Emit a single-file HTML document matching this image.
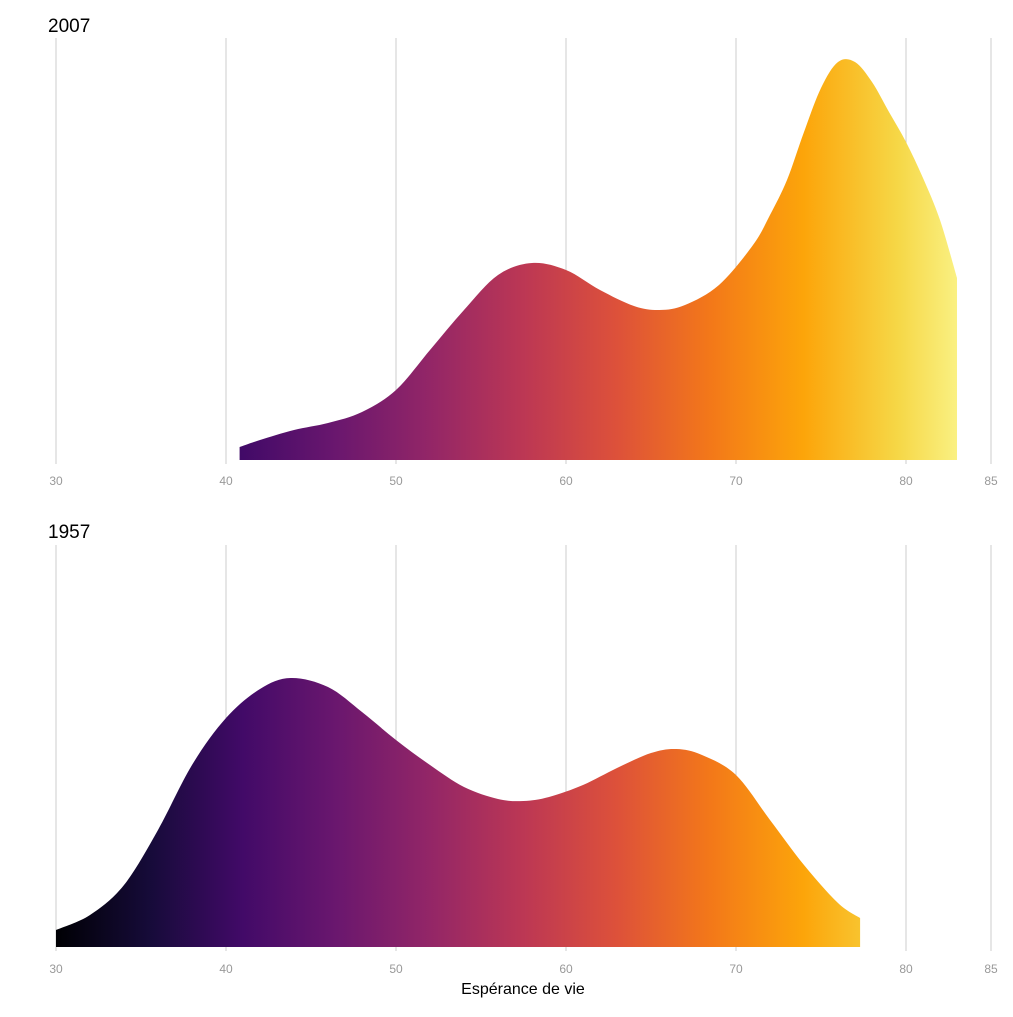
<!DOCTYPE html>
<html><head><meta charset="utf-8"><style>
body{margin:0;background:#fff;font-family:"Liberation Sans",sans-serif}
</style></head><body>
<svg id="c" width="1013" height="1012" xmlns="http://www.w3.org/2000/svg">
<defs>
<linearGradient id="inf" gradientUnits="userSpaceOnUse" x1="56" y1="0" x2="991" y2="0">
<stop offset="0" stop-color="#000004"/><stop offset="0.1" stop-color="#160b39"/><stop offset="0.2" stop-color="#420a68"/><stop offset="0.3" stop-color="#6a176e"/><stop offset="0.4" stop-color="#932667"/><stop offset="0.5" stop-color="#bc3754"/><stop offset="0.6" stop-color="#dd513a"/><stop offset="0.7" stop-color="#f37819"/><stop offset="0.8" stop-color="#fca50a"/><stop offset="0.9" stop-color="#f6d746"/><stop offset="1" stop-color="#fcffa4"/>
</linearGradient>
</defs>
</svg>
<script>
const ticks=[30,40,50,60,70,80,85];
const x2007=[40.8,42,44,46,48,50,52,54,56,58,60,62,64,65.5,67,69,71,72,73,74,75,76,77,78,79,80,81,82,83.0];
const d2007=[13,20,30,37,48,70,110,150,185,197,190,170,154,150,155,175,215,245,280,328,372,398,398,378,348,318,282,240,182];
const x1957=[30,32,34,36,38,40,42,43.8,46,48,50,52,54,56,57.5,59,61,63,65,66.5,68,70,72,74,76,77.3];
const d1957=[17,32,62,117,182,229,258,269,260,235,207,182,160,148,146,150,162,179,194,198,192,172,127,82,44,29];
const panels=[{title:"2007",xs:x2007,ds:d2007,base:460,top:38,tickY:485,titleY:32},
{title:"1957",xs:x1957,ds:d1957,base:947,top:545,tickY:973,titleY:538}];
const svg=document.getElementById('c');
const NS="http://www.w3.org/2000/svg";
const X=v=>56+(v-30)*17;
function mk(tag,attrs){const e=document.createElementNS(NS,tag);for(const k in attrs)e.setAttribute(k,attrs[k]);svg.appendChild(e);return e;}
panels.forEach((p,i)=>{
  const Y=d=>p.base-d;
  ticks.forEach(t=>{
    const l=mk('line',{x1:X(t),x2:X(t),y1:p.top,y2:p.base+4,stroke:'#cccccc','stroke-width':1});
    
    
    const tx=mk('text',{x:X(t),y:p.tickY,'text-anchor':'middle','font-size':12,fill:'#999'});
    tx.textContent=t;
    
    
  });
  let d='M'+X(p.xs[0])+','+p.base;
  const pts=p.xs.map((v,j)=>[X(v),Y(p.ds[j])]);
  d+=' L'+pts[0][0]+','+pts[0][1];
  for(let j=1;j<pts.length;j++){
    const p0=pts[j-2]||pts[j-1],p1=pts[j-1],p2=pts[j],p3=pts[j+1]||pts[j];
    const c1=[p1[0]+(p2[0]-p0[0])/6,p1[1]+(p2[1]-p0[1])/6];
    const c2=[p2[0]-(p3[0]-p1[0])/6,p2[1]-(p3[1]-p1[1])/6];
    d+=' C'+c1+' '+c2+' '+p2;
  }
  d+=' L'+pts[pts.length-1][0]+','+p.base+' Z';
  const a=mk('path',{d:d,fill:'url(#inf)'});
  
  
  const t=mk('text',{x:48,y:p.titleY,'font-size':19,fill:'#000'});
  t.textContent=p.title;
  
  
});
const at=mk('text',{x:523,y:994,'text-anchor':'middle','font-size':16,fill:'#000'});
at.textContent='Espérance de vie';


</script>
</body></html>
